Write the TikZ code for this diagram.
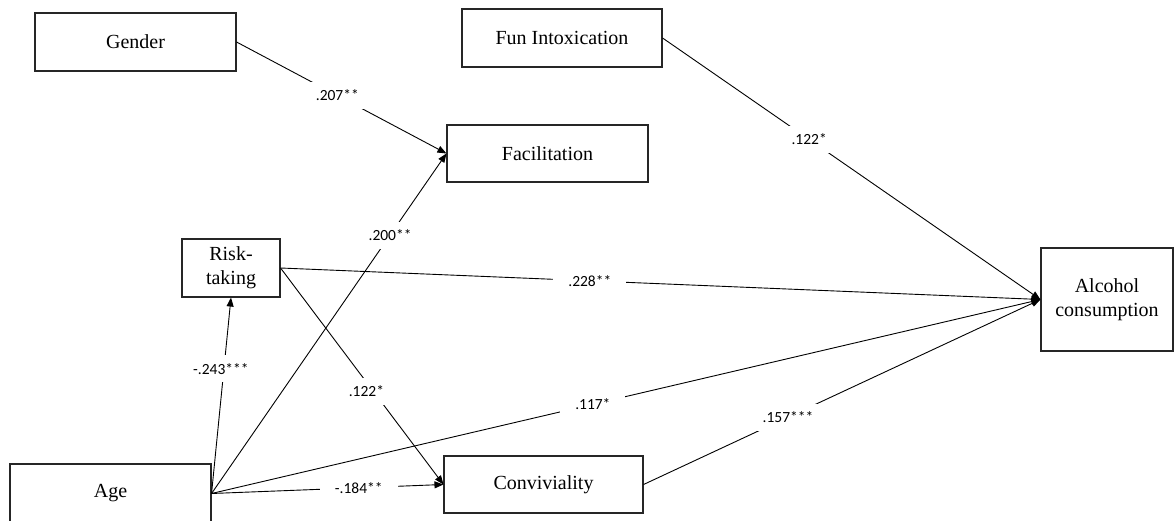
\documentclass[tikz,border=0pt]{standalone}
\usepackage{fontspec}
\setmainfont{Liberation Serif}
\newfontfamily\labfont{Carlito}
\usetikzlibrary{arrows.meta}
\begin{document}
\begin{tikzpicture}[x=1pt,y=-1pt,
  box/.style={draw=black!85,line width=1.1pt,inner sep=0pt,align=center,font=\fontsize{20}{24}\selectfont},
  arr/.style={-{Triangle[length=9pt,width=7pt]},line width=0.9pt},
  lab/.style={fill=white,inner xsep=15pt,inner ysep=8pt,font=\labfont\fontsize{15.5}{18}\selectfont}]
\useasboundingbox (0,0) rectangle (1174,521);
\clip (0,0) rectangle (1174,521);
\fill[white] (0,0) rectangle (1174,521);
% nodes
\node[box,minimum width=201pt,minimum height=58pt] (gen) at (135.5,42) {Gender};
\node[box,minimum width=200pt,minimum height=58pt] (fun) at (562,38) {Fun Intoxication};
\node[box,minimum width=201pt,minimum height=57pt] (fac) at (547.5,153.5) {Facilitation};
\node[box,minimum width=98pt,minimum height=58pt] (risk) at (231,268) {Risk-\\taking};
\node[box,minimum width=201pt,minimum height=59pt] (age) at (110.5,493.5) {Age};
\node[box,minimum width=199pt,minimum height=57pt] (conv) at (543.5,484.5) {Conviviality};
\node[box,minimum width=132pt,minimum height=103pt] (alc) at (1107,299.5) {Alcohol\\consumption};
% connectors
\draw[arr] (gen.east) -- node[lab,pos=0.48] (l1) {.207**} (fac.west);
\draw[arr] (fun.east) -- node[lab,pos=0.388] (l2) {.122*} (alc.west);
\draw[arr] (risk.east) -- node[lab,pos=0.407] (l3) {.228**} (alc.west);
\draw[arr] (risk.east) -- node[lab,pos=0.57,xshift=-7pt] (l4) {.122*} (conv.west);
\draw[arr] (age.east) -- node[lab,pos=0.636,xshift=-3pt] (l5) {-.243***} (risk.south);
\draw[arr] (age.east) -- node[lab,pos=0.76] (l6) {.200**} (fac.west);
\draw[arr] (age.east) -- node[lab,pos=0.46] (l7) {.117*} (alc.west);
\draw[arr] (age.east) -- node[lab,pos=0.635] (l8) {-.184**} (conv.west);
\draw[arr] (conv.east) -- node[lab,pos=0.364] (l9) {.157***} (alc.west);
\end{tikzpicture}
\end{document}
